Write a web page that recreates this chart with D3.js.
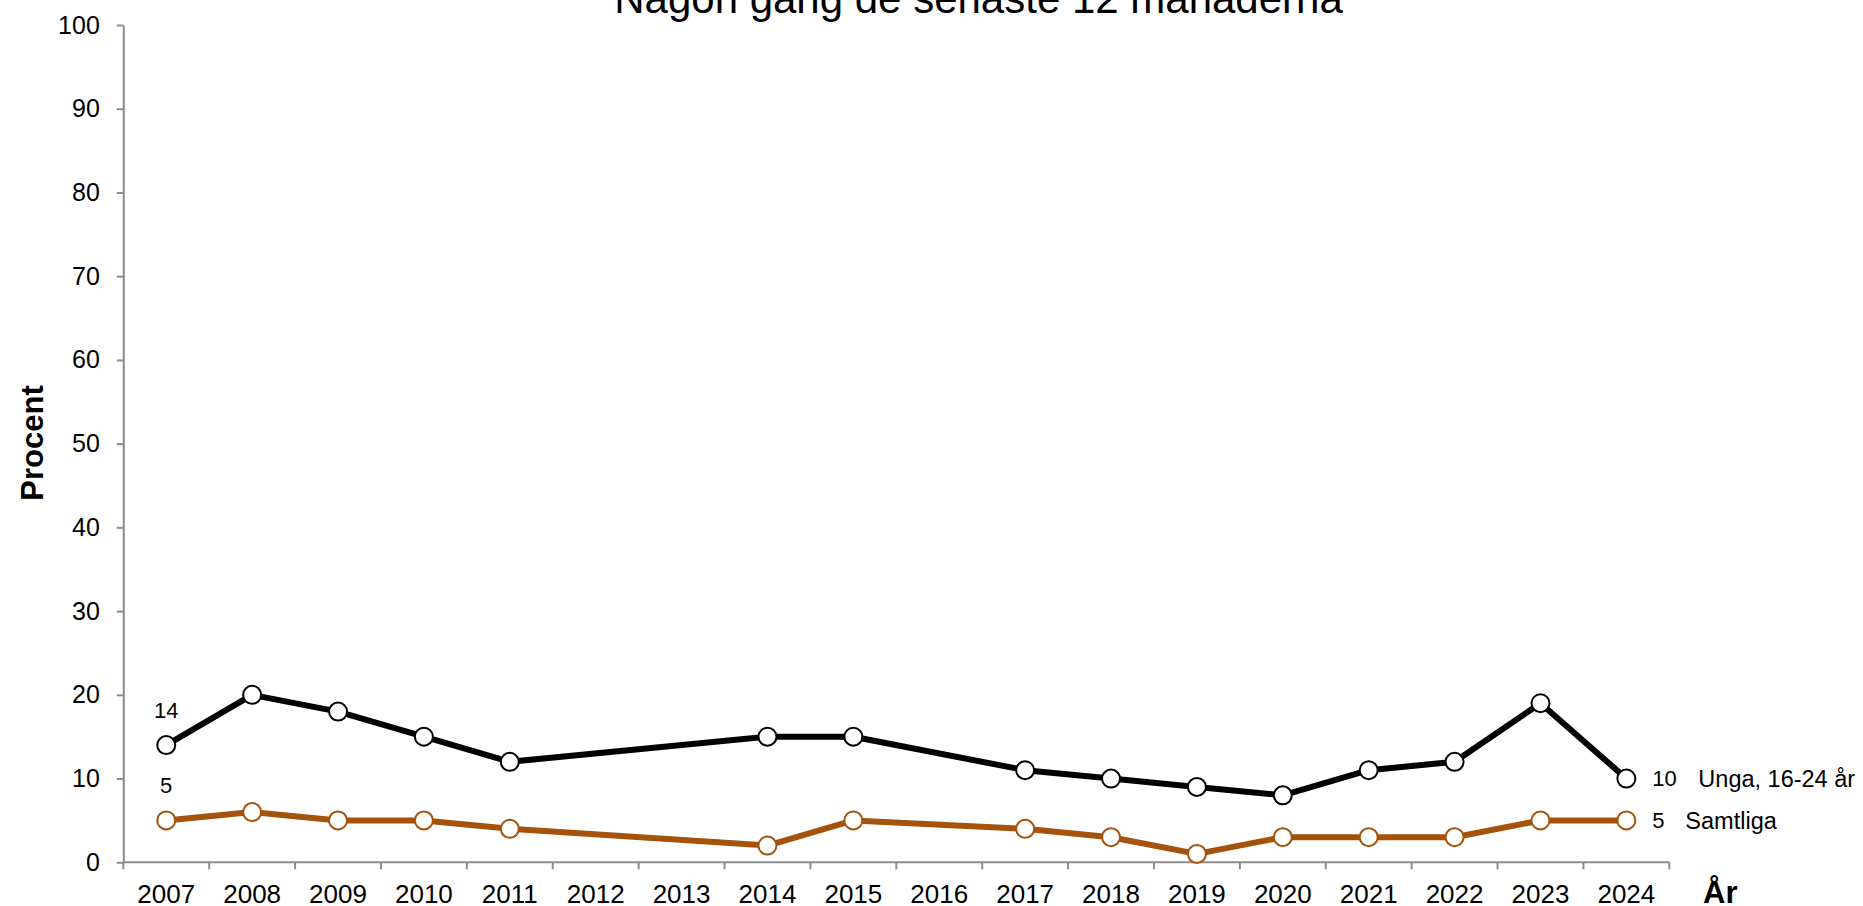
<!DOCTYPE html>
<html>
<head>
<meta charset="utf-8">
<script src="https://cdn.jsdelivr.net/npm/d3@7"></script>
<style>
  html, body { margin: 0; padding: 0; background: #fff; }
  svg { display: block; font-family: "Liberation Sans", Arial, sans-serif; }
  .axis path, .axis line { stroke: #8c8c8c; stroke-width: 2; }
  .axis text { fill: #000; font-size: 25px; font-family: "Liberation Sans", Arial, sans-serif; }
  .x-axis text { font-size: 26px; }
</style>
</head>
<body>
<div id="chart"></div>
<script>
const years = ["2007", "2008", "2009", "2010", "2011", "2012", "2013", "2014", "2015",
  "2016", "2017", "2018", "2019", "2020", "2021", "2022", "2023", "2024"];
const unga = [14, 20, 18, 15, 12, null, null, 15, 15, null, 11, 10, 9, 8, 11, 12, 19, 10];
const samtliga = [5, 6, 5, 5, 4, null, null, 2, 5, null, 4, 3, 1, 3, 3, 3, 5, 5];
const yTicks = [0, 10, 20, 30, 40, 50, 60, 70, 80, 90, 100];

const series = [
  { name: "Unga, 16-24 år", values: unga, color: "#000000", nameGap: 46 },
  { name: "Samtliga", values: samtliga, color: "#a5520c", nameGap: 33 }
];

const width = 1863;
const height = 906;
const plotLeft = 123.3, plotRight = 1669.3, plotTop = 25, plotBottom = 862.3;

const svg = d3.select("#chart").append("svg")
  .attr("width", width)
  .attr("height", height);

const x = d3.scaleBand().domain(years).range([plotLeft, plotRight]);
const y = d3.scaleLinear().domain([0, 100]).range([plotBottom, plotTop]);

// y-axel
svg.append("g")
  .attr("class", "axis")
  .attr("transform", `translate(${plotLeft},0)`)
  .call(d3.axisLeft(y).tickValues(yTicks).tickSize(6.5).tickPadding(17).tickSizeOuter(0));

// x-axel: etiketter i mitten, streck på gränserna
const xAxis = svg.append("g")
  .attr("class", "axis x-axis")
  .attr("transform", `translate(0,${plotBottom})`)
  .call(d3.axisBottom(x).tickSize(0).tickPadding(22).tickSizeOuter(0));
xAxis.select(".domain").attr("d", `M${plotLeft},0H${plotRight}`);

const bounds = years.map(d => x(d)).concat([x(years[years.length - 1]) + x.bandwidth()]);
xAxis.selectAll(".bound")
  .data(bounds)
  .join("line")
  .attr("class", "bound")
  .attr("x1", d => d)
  .attr("x2", d => d)
  .attr("y1", 0)
  .attr("y2", 7);

const line = d3.line()
  .x(d => x(d.year) + x.bandwidth() / 2)
  .y(d => y(d.v));

series.forEach(s => {
  const pts = years.map((year, i) => ({ year, v: s.values[i] })).filter(d => d.v !== null);
  svg.append("path")
    .datum(pts)
    .attr("fill", "none")
    .attr("stroke", s.color)
    .attr("stroke-width", 6)
    .attr("stroke-linejoin", "round")
    .attr("d", line);

  svg.append("g").selectAll("circle")
    .data(pts)
    .join("circle")
    .attr("cx", d => x(d.year) + x.bandwidth() / 2)
    .attr("cy", d => y(d.v))
    .attr("r", 9)
    .attr("fill", "#fff")
    .attr("stroke", s.color)
    .attr("stroke-width", 2);

  // första värdet ovanför punkten
  const first = pts[0];
  svg.append("text")
    .attr("x", x(first.year) + x.bandwidth() / 2)
    .attr("y", y(first.v) - 27)
    .attr("text-anchor", "middle")
    .attr("font-size", 22)
    .text(first.v);

  // sista värdet och serienamn till höger
  const last = pts[pts.length - 1];
  const lx = x(last.year) + x.bandwidth() / 2 + 26;
  svg.append("text")
    .attr("x", lx)
    .attr("y", y(last.v))
    .attr("dy", "0.35em")
    .attr("font-size", 22)
    .text(last.v);
  svg.append("text")
    .attr("x", lx + s.nameGap)
    .attr("y", y(last.v))
    .attr("dy", "0.35em")
    .attr("font-size", 23.5)
    .text(s.name);
});

svg.append("text")
  .attr("x", 978.5)
  .attr("y", 13)
  .attr("text-anchor", "middle")
  .attr("font-size", 42)
  .text("Någon gång de senaste 12 månaderna");

svg.append("text")
  .attr("transform", `translate(43,443) rotate(-90)`)
  .attr("text-anchor", "middle")
  .attr("font-size", 31)
  .attr("font-weight", "bold")
  .text("Procent");

svg.append("text")
  .attr("x", 1703)
  .attr("y", 903)
  .attr("font-size", 31)
  .attr("font-weight", "bold")
  .text("År");
</script>
</body>
</html>
